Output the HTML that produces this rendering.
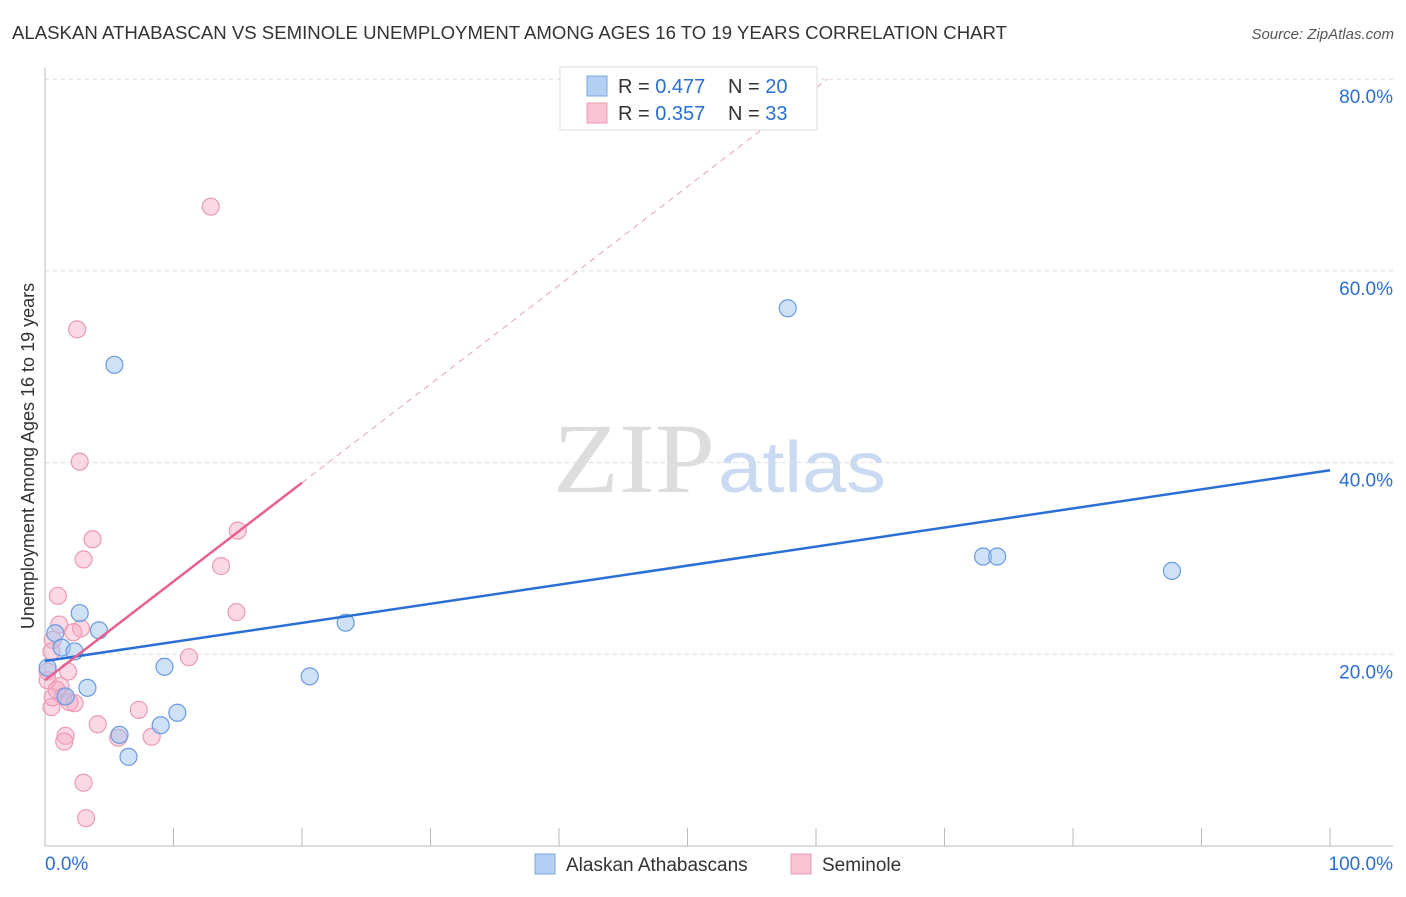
<!DOCTYPE html>
<html><head><meta charset="utf-8"><style>
body{margin:0;background:#fff;font-family:"Liberation Sans",sans-serif;}
</style></head><body>
<svg width="1406" height="892" xmlns="http://www.w3.org/2000/svg" id="chart">
<text x="12" y="39" font-size="18" fill="#333" textLength="995" lengthAdjust="spacingAndGlyphs">ALASKAN ATHABASCAN VS SEMINOLE UNEMPLOYMENT AMONG AGES 16 TO 19 YEARS CORRELATION CHART</text>
<text x="1394" y="39" font-size="15" fill="#555" font-style="italic" text-anchor="end">Source: ZipAtlas.com</text>
<text x="553" y="492" font-size="100" fill="#ddd" font-family="Liberation Serif,serif" textLength="162" lengthAdjust="spacingAndGlyphs">ZIP</text>
<text x="718" y="492" font-size="72" fill="#c9daf2" textLength="168" lengthAdjust="spacingAndGlyphs">atlas</text>
<text transform="translate(34,456) rotate(-90)" font-size="18" fill="#333" text-anchor="middle">Unemployment Among Ages 16 to 19 years</text>
<g id="grid"></g><g id="axes"></g><g id="marks"></g>
<g>
<rect x="560" y="67" width="257" height="63" fill="#fff" stroke="#ddd"/>
<rect x="587" y="76" width="20" height="20" fill="#b5cff2" stroke="#7aa7e3"/>
<rect x="587" y="103" width="20" height="20" fill="#f9c3d3" stroke="#eb9ab3"/>
<text x="618" y="93" font-size="20" fill="#333">R = <tspan fill="#2a6fd6">0.477</tspan></text>
<text x="728" y="93" font-size="20" fill="#333">N = <tspan fill="#2a6fd6">20</tspan></text>
<text x="618" y="120" font-size="20" fill="#333">R = <tspan fill="#2a6fd6">0.357</tspan></text>
<text x="728" y="120" font-size="20" fill="#333">N = <tspan fill="#2a6fd6">33</tspan></text>
</g>
<g>
<rect x="535" y="854" width="20" height="20" fill="#b5cff2" stroke="#7aa7e3"/>
<text x="566" y="871" font-size="19" fill="#333">Alaskan Athabascans</text>
<rect x="791" y="854" width="20" height="20" fill="#f9c3d3" stroke="#eb9ab3"/>
<text x="822" y="871" font-size="19" fill="#333">Seminole</text>
</g>
</svg>
<script>
const yTicks=[20,40,60,80];
const xTickLabels=["0.0%","100.0%"];
const blueX=[5.4,57.8,2.7,4.2,0.8,1.3,2.3,23.4,9.3,0.2,20.6,3.3,1.6,10.3,9.0,5.8,6.5,73.0,74.1,87.7];
const blueY=[50.2,56.1,24.3,22.5,22.2,20.7,20.3,23.3,18.7,18.6,17.7,16.5,15.6,13.9,12.6,11.6,9.3,30.2,30.2,28.7];
const pinkX=[12.9,2.5,2.7,3.7,3.0,15.0,1.0,13.7,14.9,1.1,2.8,2.2,0.6,0.5,11.2,1.8,0.2,0.2,1.2,1.4,2.3,1.9,0.5,0.6,7.3,4.1,5.7,8.3,1.6,1.5,3.0,3.2,0.9];
const pinkY=[66.7,53.9,40.1,32.0,29.9,32.9,26.1,29.2,24.4,23.1,22.7,22.3,21.5,20.3,19.7,18.2,18.2,17.3,16.7,15.6,14.9,15.0,14.5,15.5,14.2,12.7,11.3,11.4,11.5,10.9,6.6,2.9,16.3];
const blueLine=[19.3,39.2];
const pinkLine=[17.3,1.03];
const NS="http://www.w3.org/2000/svg";
const sx=v=>45+v*12.85, sy=v=>846-v*9.585;
function mk(t,a,p){const e=document.createElementNS(NS,t);for(const k in a)e.setAttribute(k,a[k]);p.appendChild(e);return e;}
const grid=document.getElementById('grid'),axes=document.getElementById('axes'),marks=document.getElementById('marks');
yTicks.forEach(t=>{
 const l=mk('line',{x1:45,x2:1393,y1:sy(t),y2:sy(t),stroke:'#ddd','stroke-dasharray':'4 4'},grid);
 
 
 const tx=mk('text',{x:1393,y:sy(t)+24,'font-size':19,fill:'#2a6fd6','text-anchor':'end'},grid);
 tx.textContent=t.toFixed(1)+'%';
 
 
});
mk('line',{x1:45,x2:45,y1:68,y2:846,stroke:'#bbb'},axes);
mk('line',{x1:45,x2:1393,y1:846,y2:846,stroke:'#bbb'},axes);
for(let i=0;i<=10;i++){const l=mk('line',{x1:sx(i*10),x2:sx(i*10),y1:828,y2:846,stroke:'#bbb'},axes);
 
 }
const t0=mk('text',{x:45,y:870,'font-size':19,fill:'#2a6fd6'},axes);t0.textContent=xTickLabels[0];


const t1=mk('text',{x:1393,y:870,'font-size':19,fill:'#2a6fd6','text-anchor':'end'},axes);t1.textContent=xTickLabels[1];


pinkX.forEach((x,i)=>{const c=mk('circle',{cx:sx(x),cy:sy(pinkY[i]),r:8.5,fill:'rgba(247,170,195,0.45)',stroke:'#eb9ab3','stroke-width':1.2},marks);
 
 });
blueX.forEach((x,i)=>{const c=mk('circle',{cx:sx(x),cy:sy(blueY[i]),r:8.5,fill:'rgba(160,195,240,0.5)',stroke:'#6a9be0','stroke-width':1.2},marks);
 
 });
const bl=mk('line',{x1:sx(0),y1:sy(blueLine[0]),x2:sx(100),y2:sy(blueLine[1]),stroke:'#2a6fd6','stroke-width':2.5},marks);


const xe=(80-pinkLine[0])/pinkLine[1];
const pd=mk('line',{x1:sx(20),y1:sy(pinkLine[0]+20*pinkLine[1]),x2:sx(xe),y2:sy(80),stroke:'#e8a0b8','stroke-width':1,'stroke-dasharray':'6 5'},marks);


const pl=mk('line',{x1:sx(0),y1:sy(pinkLine[0]),x2:sx(20),y2:sy(pinkLine[0]+20*pinkLine[1]),stroke:'#e8608f','stroke-width':2.5},marks);


</script>
</body></html>
